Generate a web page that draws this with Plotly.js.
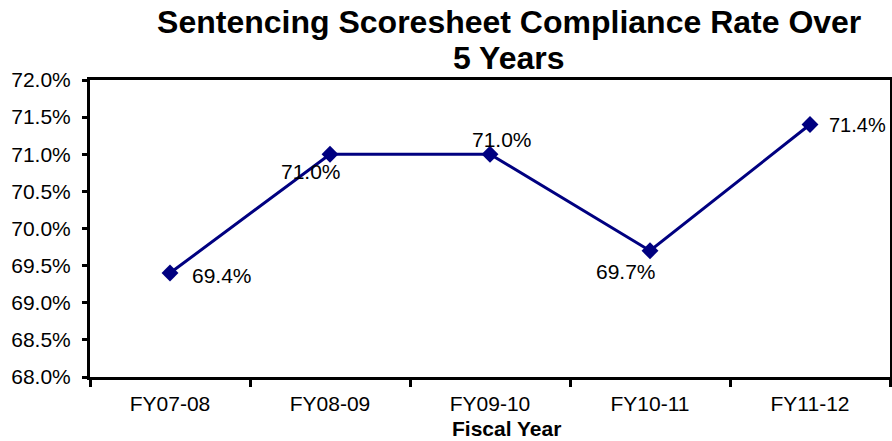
<!DOCTYPE html>
<html>
<head>
<meta charset="utf-8">
<script src="https://cdn.plot.ly/plotly-3.0.1.min.js"></script>
<style>html,body{margin:0;padding:0;background:#fff;}#chart{width:892px;height:441px;}</style>
</head>
<body>
<div id="chart"></div>
<script>
const categories = ["FY07-08", "FY08-09", "FY09-10", "FY10-11", "FY11-12"];
const complianceRate = [69.4, 71.0, 71.0, 69.7, 71.4];
const labelText = ["69.4%", "71.0%", "71.0%", "69.7%", "71.4%"];
const yTickVals = [68.0, 68.5, 69.0, 69.5, 70.0, 70.5, 71.0, 71.5, 72.0];
const yTickText = ["68.0%", "68.5%", "69.0%", "69.5%", "70.0%", "70.5%", "71.0%", "71.5%", "72.0%"];

const FONT = '"Liberation Sans", Arial, sans-serif';
const NAVY = '#000080';

// label offsets (pixels) relative to each point
const labelShift = [[52, -2], [-19, -17], [12, 15], [-24, -21], [47, 0]];

const trace = {
  x: categories,
  y: complianceRate,
  type: 'scatter',
  mode: 'lines+markers',
  line: {color: NAVY, width: 3},
  marker: {symbol: 'diamond', size: 13, color: NAVY},
  hoverinfo: 'x+y',
  cliponaxis: false
};

const annotations = categories.map((c, i) => ({
  x: c, y: complianceRate[i], xref: 'x', yref: 'y',
  text: labelText[i], showarrow: false,
  xshift: labelShift[i][0], yshift: labelShift[i][1],
  font: {family: FONT, size: (i === 4 ? 20 : 21), color: '#000'}
}));

annotations.push({
  xref: 'paper', yref: 'paper', x: 0.524, y: 1,
  xanchor: 'center', yanchor: 'bottom', yshift: 2,
  text: '<b>5 Years</b>', showarrow: false,
  font: {family: FONT, size: 32, color: '#000'}
});
annotations.push({
  xref: 'paper', yref: 'paper', x: 0.52, y: 0,
  xanchor: 'center', yanchor: 'middle', yshift: -51,
  text: '<b>Fiscal Year</b>', showarrow: false,
  font: {family: FONT, size: 21, color: '#000'}
});

const layout = {
  width: 892, height: 441,
  margin: {l: 90, r: 2, t: 80, b: 64},
  paper_bgcolor: '#fff', plot_bgcolor: '#fff',
  showlegend: false,
  font: {family: FONT, size: 20, color: '#000'},
  title: {
    text: '<b>Sentencing Scoresheet Compliance Rate Over</b>',
    x: 0.524, xanchor: 'center', xref: 'paper',
    y: 1, yref: 'container', yanchor: 'top', pad: {t: 11},
    font: {family: FONT, size: 32, color: '#000'}
  },
  xaxis: {
    type: 'category',
    range: [-0.5, 4.5],
    showgrid: false, zeroline: false,
    showline: true, linecolor: '#000', linewidth: 3, mirror: true,
    ticks: 'outside', tickson: 'boundaries', ticklen: 7, tickwidth: 3, tickcolor: '#000',
    ticklabelstandoff: 6,
    tickfont: {family: FONT, size: 21, color: '#000'}
  },
  yaxis: {
    range: [68, 72],
    tickmode: 'array',
    tickvals: yTickVals,
    ticktext: yTickText,
    showgrid: false, zeroline: false,
    showline: true, linecolor: '#000', linewidth: 3, mirror: true,
    ticks: 'outside', ticklen: 5, tickwidth: 3, tickcolor: '#000',
    ticklabelstandoff: 7,
    tickfont: {family: FONT, size: 21, color: '#000'}
  },
  annotations: annotations
};

Plotly.newPlot('chart', [trace], layout, {staticPlot: true});
</script>
</body>
</html>
